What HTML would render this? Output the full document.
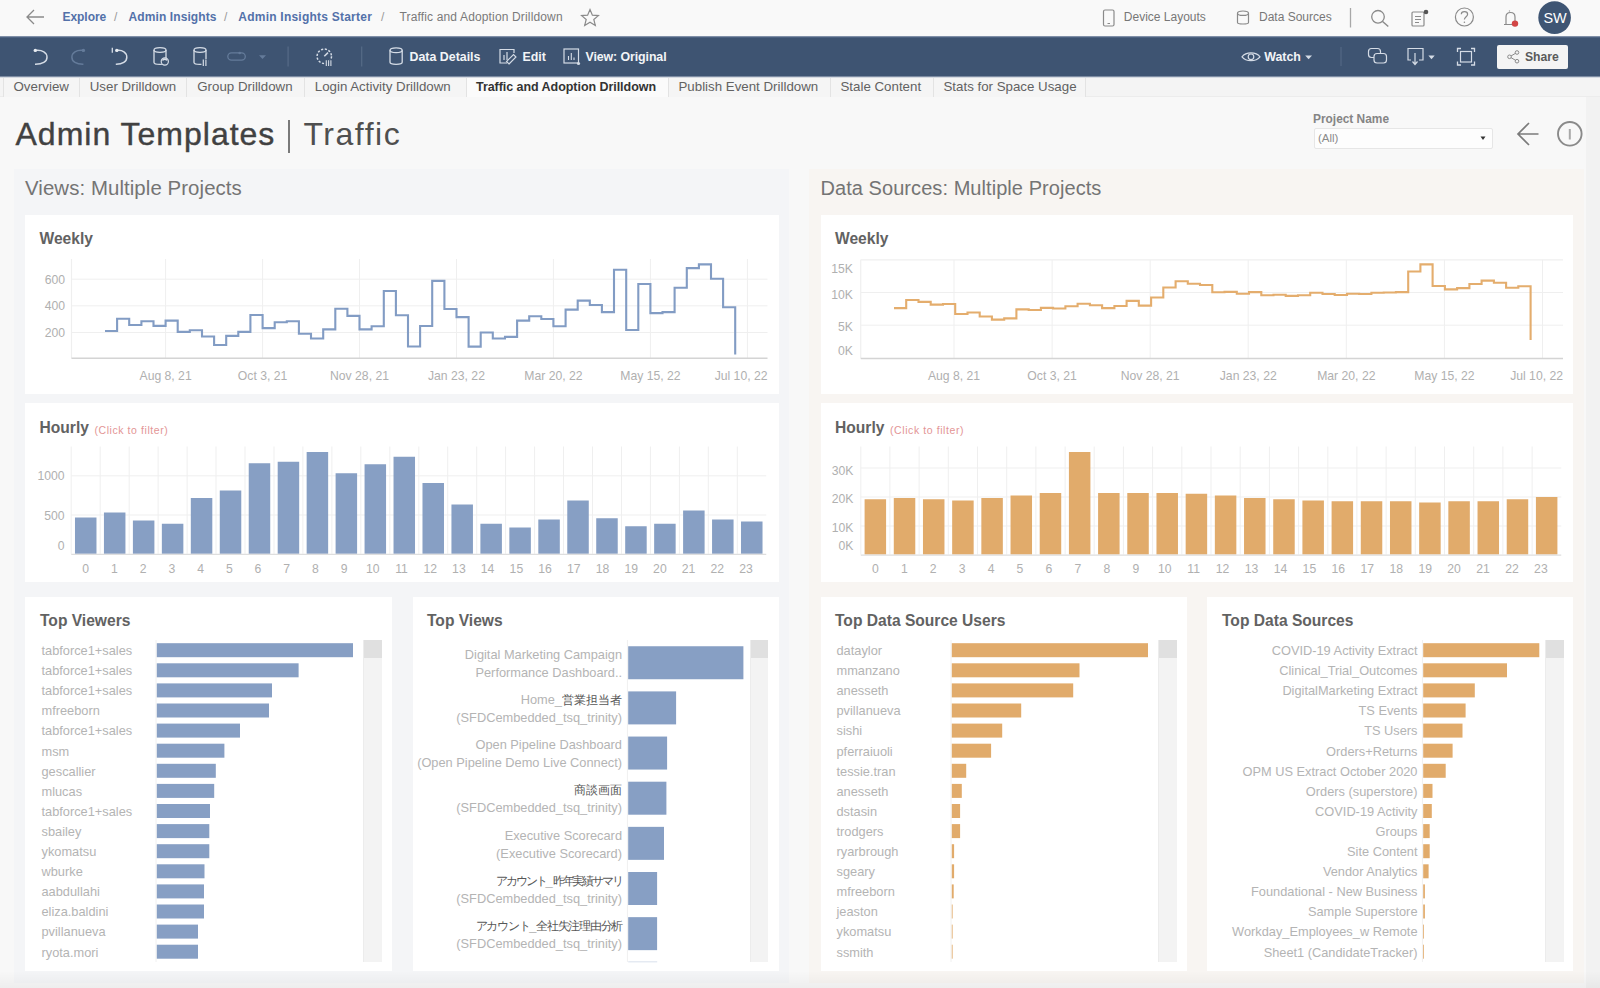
<!DOCTYPE html>
<html><head><meta charset="utf-8"><title>Admin Templates | Traffic</title>
<style>
*{box-sizing:border-box;margin:0;padding:0}
html,body{width:1600px;height:988px;overflow:hidden;background:#f8f8f8;font-family:"Liberation Sans", sans-serif;}
.a{position:absolute;white-space:nowrap}
svg{position:absolute;overflow:visible}
</style></head><body>

<div class="a" style="left:0;top:0;width:1600px;height:37px;background:#f9f9f9"></div>
<svg style="left:0;top:0" width="1600" height="36"><path d="M44,17H27M34,10L27,17L34,24" fill="none" stroke="#8a8a8a" stroke-width="1.3"/><path d="M590,9.5L592.4,15.2L598.4,15.6L593.8,19.5L595.3,25.4L590,22.2L584.7,25.4L586.2,19.5L581.6,15.6L587.6,15.2Z" fill="none" stroke="#8a8a8a" stroke-width="1.2"/><rect x="1103.5" y="10" width="10.5" height="16" rx="1.5" fill="none" stroke="#8a8a8a" stroke-width="1.2"/><path d="M1107.5,23.5H1110" stroke="#8a8a8a" stroke-width="1"/><path d="M1237.5,13.5V22.5C1237.5,24.5 1248.5,24.5 1248.5,22.5V13.5" fill="none" stroke="#8a8a8a" stroke-width="1.2"/><ellipse cx="1243" cy="13.2" rx="5.5" ry="2.2" fill="none" stroke="#8a8a8a" stroke-width="1.2"/><path d="M1350.5,8V27.5" stroke="#a8a8a8" stroke-width="1.3"/><circle cx="1378" cy="16.8" r="6.3" fill="none" stroke="#8a8a8a" stroke-width="1.3"/><path d="M1382.6,21.4L1388.3,26.6" stroke="#8a8a8a" stroke-width="1.4"/><rect x="1412" y="12" width="12" height="14" rx="1" fill="none" stroke="#8a8a8a" stroke-width="1.2"/><path d="M1415,16.5H1421M1415,19.5H1421M1415,22.5H1419" stroke="#8a8a8a" stroke-width="1"/><circle cx="1426" cy="12" r="2.3" fill="#555"/><circle cx="1464.4" cy="17" r="9" fill="none" stroke="#8a8a8a" stroke-width="1.2"/><path d="M1461.3,14.3C1461.3,10.8 1467.6,10.8 1467.6,14.3C1467.6,16.6 1464.4,16.8 1464.4,19.5" fill="none" stroke="#8a8a8a" stroke-width="1.2"/><circle cx="1464.4" cy="22.3" r="0.8" fill="#8a8a8a"/><path d="M1504,24.5H1517M1506,24.5V17C1506,11 1515,11 1515,17V24.5M1509.5,10.5V11.5" fill="none" stroke="#8a8a8a" stroke-width="1.2"/><circle cx="1515" cy="23.6" r="3.2" fill="#d24545"/><circle cx="1554.6" cy="17.6" r="16.3" fill="#3e5573"/></svg>
<div class="a" style="left:1539px;top:9.6px;width:32px;text-align:center;font-size:14.5px;color:#fff;letter-spacing:-0.3px">SW</div>
<div class="a" style="font-size:12px;top:10px;left:62.5px;color:#5371a9;font-weight:bold;letter-spacing:-0.05px">Explore</div>
<div class="a" style="font-size:12px;top:10px;left:114px;color:#999">/</div>
<div class="a" style="font-size:12px;top:10px;left:128.5px;color:#5371a9;font-weight:bold;letter-spacing:0.1px">Admin Insights</div>
<div class="a" style="font-size:12px;top:10px;left:224px;color:#999">/</div>
<div class="a" style="font-size:12px;top:10px;left:238.3px;color:#5371a9;font-weight:bold;letter-spacing:0.23px">Admin Insights Starter</div>
<div class="a" style="font-size:12px;top:10px;left:381px;color:#999">/</div>
<div class="a" style="font-size:12px;top:10px;left:399.5px;color:#7a7a7a;letter-spacing:0.15px">Traffic and Adoption Drilldown</div>
<div class="a" style="font-size:12px;top:10px;left:1123.8px;color:#777;letter-spacing:0px">Device Layouts</div>
<div class="a" style="font-size:12px;top:10px;left:1259px;color:#777;letter-spacing:0px">Data Sources</div>
<div class="a" style="left:0;top:36px;width:1600px;height:42px;background:linear-gradient(to bottom,#a3afbf 0,#5d7090 1px,#3e5472 2px,#3e5472 39.5px,#7d8ca3 40.5px,#d5dae1 41.5px)"></div>
<svg style="left:0;top:0" width="1600" height="80"><path d="M35.5,50.4C42.5,49.8 47,52.5 47,57.2C47,61.8 42.5,64.3 35,64.2" fill="none" stroke="#d5dce6" stroke-width="1.5"/><circle cx="35.3" cy="50.4" r="1.7" fill="#e9edf2"/><path d="M83.2,50.4C76.2,49.8 71.9,52.5 71.9,57.2C71.9,61.8 76.2,64.3 83.4,64.2" fill="none" stroke="#647b9a" stroke-width="1.5"/><circle cx="83.4" cy="50.4" r="1.7" fill="#647b9a"/><path d="M117,50.4C122.5,49.8 126.8,52.5 126.8,57.2C126.8,61.8 122.5,64.3 115.8,64.2" fill="none" stroke="#d5dce6" stroke-width="1.5"/><circle cx="116.8" cy="50.4" r="1.7" fill="#e9edf2"/><path d="M112.3,47.8V52.8" stroke="#d5dce6" stroke-width="1.3"/><path d="M154,50V62.5C154,65 166,65 166,62.5V50" fill="none" stroke="#d5dce6" stroke-width="1.3"/><ellipse cx="160" cy="50" rx="6" ry="2.3" fill="none" stroke="#d5dce6" stroke-width="1.3"/><circle cx="164.8" cy="61.5" r="3.6" fill="#3f5572" stroke="#d5dce6" stroke-width="1.2"/><path d="M162.5,60.5A2.5,2.5 0 0 1 167,60.5" fill="none" stroke="#d5dce6" stroke-width="1.6"/><path d="M194,50V62.5C194,65 206,65 206,62.5V50" fill="none" stroke="#d5dce6" stroke-width="1.3"/><ellipse cx="200" cy="50" rx="6" ry="2.3" fill="none" stroke="#d5dce6" stroke-width="1.3"/><rect x="201.5" y="59" width="5.5" height="7" fill="#3f5572"/><path d="M203.3,59.5V66M205.9,59.5V66" stroke="#d5dce6" stroke-width="1.2"/><rect x="227.8" y="52.8" width="17.5" height="7.4" rx="3.7" fill="none" stroke="#647b9a" stroke-width="1.3"/><circle cx="239.7" cy="53" r="1.3" fill="#647b9a"/><path d="M259,55.2H266L262.5,59Z" fill="#647b9a"/><path d="M288.1,46.5V66.5" stroke="#566b87" stroke-width="1.2"/><circle cx="324.3" cy="56.3" r="7.2" fill="none" stroke="#d5dce6" stroke-width="1.5" stroke-dasharray="2.2 1.6"/><path d="M324.3,56.3L328,52.6" stroke="#d5dce6" stroke-width="1.5"/><rect x="324.5" y="59.5" width="8" height="7.5" fill="#3f5572"/><path d="M326.3,60.3V66M328.6,60.3V66M330.9,60.3V66" stroke="#d5dce6" stroke-width="1.1"/><path d="M361.7,46.5V66.5" stroke="#566b87" stroke-width="1.2"/><path d="M390,50.3V62.3C390,65 402.2,65 402.2,62.3V50.3" fill="none" stroke="#d5dce6" stroke-width="1.3"/><ellipse cx="396.1" cy="50.3" rx="6.1" ry="2.4" fill="none" stroke="#d5dce6" stroke-width="1.3"/><path d="M507,63H500V49.5H514V53" fill="none" stroke="#d5dce6" stroke-width="1.2"/><path d="M504,60V55M507,60V52" stroke="#d5dce6" stroke-width="1.2"/><path d="M509,64L516,57L513.5,54.5L506.5,61.5Z" fill="none" stroke="#d5dce6" stroke-width="1.1"/><rect x="564" y="49" width="14.5" height="14" fill="none" stroke="#d5dce6" stroke-width="1.2"/><path d="M568.5,60V56M571.3,60V53M574,60V57.5" stroke="#d5dce6" stroke-width="1.1"/><circle cx="578.5" cy="63.5" r="1.6" fill="#d5dce6"/><path d="M1242,56.8C1246,51.5 1256,51.5 1260,56.8C1256,62 1246,62 1242,56.8Z" fill="none" stroke="#d5dce6" stroke-width="1.2"/><circle cx="1251" cy="56.8" r="2.8" fill="none" stroke="#d5dce6" stroke-width="1.2"/><path d="M1305.2,55.5H1312L1308.6,59.3Z" fill="#d5dce6"/><path d="M1341,47V66" stroke="#566b87" stroke-width="1"/><rect x="1368.5" y="48.5" width="12" height="9" rx="3" fill="none" stroke="#d5dce6" stroke-width="1.2"/><rect x="1374" y="53.5" width="12.5" height="9.5" rx="3" fill="#3f5572" stroke="#d5dce6" stroke-width="1.2"/><path d="M1411,60H1408V48.5H1423V60H1419" fill="none" stroke="#d5dce6" stroke-width="1.2"/><path d="M1415,53V64M1412.5,61.5L1415,64.5L1417.5,61.5" fill="none" stroke="#d5dce6" stroke-width="1.2"/><path d="M1428.4,55.5H1434.7L1431.5,59.3Z" fill="#d5dce6"/><path d="M1457.5,52V48.5H1461M1471,48.5H1474.5V52M1474.5,61.5V65H1471M1461,65H1457.5V61.5" fill="none" stroke="#d5dce6" stroke-width="1.3"/><rect x="1460.5" y="51.5" width="11" height="10.5" fill="none" stroke="#d5dce6" stroke-width="1.2"/></svg>
<div class="a" style="font-size:12.4px;font-weight:bold;color:#f2f4f7;top:49.5px;left:409.5px">Data Details</div>
<div class="a" style="font-size:12.4px;font-weight:bold;color:#f2f4f7;top:49.5px;left:522.4px">Edit</div>
<div class="a" style="font-size:12.4px;font-weight:bold;color:#f2f4f7;top:49.5px;left:585.5px;letter-spacing:-0.1px">View: Original</div>
<div class="a" style="font-size:12.4px;font-weight:bold;color:#f2f4f7;top:49.5px;left:1264.2px">Watch</div>
<div class="a" style="left:1497px;top:44.8px;width:71px;height:24px;background:#f4f4f4;border-radius:2px"></div>
<svg style="left:0;top:0" width="1600" height="80"><circle cx="1509.5" cy="56.8" r="1.8" fill="none" stroke="#8a8a8a" stroke-width="1"/><circle cx="1517" cy="52.5" r="1.8" fill="none" stroke="#8a8a8a" stroke-width="1"/><circle cx="1517" cy="61.2" r="1.8" fill="none" stroke="#8a8a8a" stroke-width="1"/><path d="M1511,56L1515.5,53.3M1511,57.6L1515.5,60.3" stroke="#8a8a8a" stroke-width="1"/></svg>
<div class="a" style="left:1524.9px;top:49.5px;font-size:12.2px;font-weight:bold;color:#5a5a5a">Share</div>
<div class="a" style="left:0;top:78px;width:1600px;height:19px;background:#f4f4f4;border-bottom:1px solid #ececec"></div>
<div class="a" style="left:2.5px;top:78px;width:76.25px;height:18.5px;padding-top:0px;background:#f5f5f5;border-left:1px solid #e3e3e3;font-size:13.3px;line-height:18px;padding-left:10px;color:#626262;font-weight:normal;letter-spacing:0px">Overview</div>
<div class="a" style="left:78.75px;top:78px;width:107.5px;height:18.5px;padding-top:0px;background:#f5f5f5;border-left:1px solid #e3e3e3;font-size:13.3px;line-height:18px;padding-left:10px;color:#626262;font-weight:normal;letter-spacing:0px">User Drilldown</div>
<div class="a" style="left:186.25px;top:78px;width:117.5px;height:18.5px;padding-top:0px;background:#f5f5f5;border-left:1px solid #e3e3e3;font-size:13.3px;line-height:18px;padding-left:10px;color:#626262;font-weight:normal;letter-spacing:0px">Group Drilldown</div>
<div class="a" style="left:303.75px;top:78px;width:162.25px;height:18.5px;padding-top:0px;background:#f5f5f5;border-left:1px solid #e3e3e3;font-size:13.3px;line-height:18px;padding-left:10px;color:#626262;font-weight:normal;letter-spacing:0px">Login Activity Drilldown</div>
<div class="a" style="left:466px;top:78px;width:201.5px;height:18.5px;padding-top:0px;background:#fbfbfb;border-left:1px solid #e3e3e3;font-size:12.5px;line-height:18px;padding-left:9px;color:#333;font-weight:bold;letter-spacing:-0.05px">Traffic and Adoption Drilldown</div>
<div class="a" style="left:667.5px;top:78px;width:162.0px;height:18.5px;padding-top:0px;background:#f5f5f5;border-left:1px solid #e3e3e3;font-size:13.3px;line-height:18px;padding-left:10px;color:#626262;font-weight:normal;letter-spacing:0px">Publish Event Drilldown</div>
<div class="a" style="left:829.5px;top:78px;width:103.0px;height:18.5px;padding-top:0px;background:#f5f5f5;border-left:1px solid #e3e3e3;font-size:13.3px;line-height:18px;padding-left:10px;color:#626262;font-weight:normal;letter-spacing:0px">Stale Content</div>
<div class="a" style="left:932.5px;top:78px;width:152.5px;height:18.5px;padding-top:0px;background:#f5f5f5;border-left:1px solid #e3e3e3;font-size:13.3px;line-height:18px;padding-left:10px;color:#626262;font-weight:normal;letter-spacing:0px">Stats for Space Usage</div>
<div class="a" style="left:1085px;top:78px;width:1px;height:18.5px;background:#e3e3e3"></div>
<div class="a" style="left:15.5px;top:116px;font-size:32px;color:#414141;letter-spacing:1px;-webkit-text-stroke:0.4px #414141">Admin Templates</div>
<div class="a" style="left:288px;top:120px;width:1.7px;height:32.5px;background:#7a7a7a"></div>
<div class="a" style="left:303.5px;top:116px;font-size:32px;color:#4f4f4f;letter-spacing:1.5px;font-weight:normal">Traffic</div>
<div class="a" style="left:1313px;top:111.5px;font-size:11.9px;font-weight:bold;color:#858585">Project Name</div>
<div class="a" style="left:1314px;top:128px;width:179px;height:21px;background:#fdfdfd;border:1px solid #e6e6e6;border-radius:2px"></div>
<div class="a" style="left:1318px;top:132px;font-size:11.5px;color:#8a8a8a">(All)</div>
<svg style="left:0;top:0" width="1600" height="200"><path d="M1480.5,136.5H1485.5L1483,140Z" fill="#333"/><path d="M1538.5,134H1518.5M1529,123L1518,134L1529,145" fill="none" stroke="#7b7b7b" stroke-width="1.7"/><circle cx="1569.8" cy="133.8" r="11.8" fill="none" stroke="#8a8a8a" stroke-width="1.9"/><path d="M1569.8,129V139.5" stroke="#a8a8a8" stroke-width="2"/></svg>
<div class="a" style="left:1585.5px;top:97px;width:15px;height:891px;background:#f2f2f2"></div>
<div class="a" style="left:14px;top:169px;width:775px;height:814px;background:#f4f5f7"></div>
<div class="a" style="left:809px;top:169px;width:775px;height:814px;background:#f8f5f2"></div>
<div class="a" style="left:25px;top:177.2px;font-size:20.4px;color:#747474;letter-spacing:0.08px">Views: Multiple Projects</div>
<div class="a" style="left:820.5px;top:177.2px;font-size:20px;color:#747474;letter-spacing:0.06px">Data Sources: Multiple Projects</div>
<div class="a" style="left:25px;top:215px;width:754px;height:179px;background:#fff"></div>
<div class="a" style="left:25px;top:403px;width:754px;height:179px;background:#fff"></div>
<div class="a" style="left:25px;top:597px;width:367px;height:374px;background:#fff"></div>
<div class="a" style="left:412.5px;top:597px;width:366.5px;height:374px;background:#fff"></div>
<div class="a" style="left:820.5px;top:215px;width:752.5px;height:179px;background:#fff"></div>
<div class="a" style="left:820.5px;top:403px;width:752.5px;height:179px;background:#fff"></div>
<div class="a" style="left:820.5px;top:597px;width:366.70000000000005px;height:374px;background:#fff"></div>
<div class="a" style="left:1207.4px;top:597px;width:365.5999999999999px;height:374px;background:#fff"></div>
<div class="a" style="font-size:15.6px;font-weight:bold;color:#626262;left:39.5px;top:229.5px">Weekly</div>
<div class="a" style="font-size:15.6px;font-weight:bold;color:#626262;left:835px;top:229.5px">Weekly</div>
<div class="a" style="font-size:15.6px;font-weight:bold;color:#626262;left:39.5px;top:419px">Hourly</div>
<div class="a" style="font-size:15.6px;font-weight:bold;color:#626262;left:835px;top:419px">Hourly</div>
<div class="a" style="left:94.4px;top:423.5px;font-size:10.5px;color:#e39595;letter-spacing:0.58px">(Click to filter)</div>
<div class="a" style="left:890px;top:423.5px;font-size:10.5px;color:#e39595;letter-spacing:0.58px">(Click to filter)</div>
<div class="a" style="font-size:15.6px;font-weight:bold;color:#626262;left:40px;top:611.5px">Top Viewers</div>
<div class="a" style="font-size:15.6px;font-weight:bold;color:#626262;left:427px;top:611.5px">Top Views</div>
<div class="a" style="font-size:15.6px;font-weight:bold;color:#626262;left:835px;top:611.5px">Top Data Source Users</div>
<div class="a" style="font-size:15.6px;font-weight:bold;color:#626262;left:1222px;top:611.5px">Top Data Sources</div>
<svg style="left:0;top:0" width="1600" height="988"><path d="M165.6,259V358.3" stroke="#efefef" stroke-width="1"/><path d="M262.6,259V358.3" stroke="#efefef" stroke-width="1"/><path d="M359.5,259V358.3" stroke="#efefef" stroke-width="1"/><path d="M456.5,259V358.3" stroke="#efefef" stroke-width="1"/><path d="M553.4,259V358.3" stroke="#efefef" stroke-width="1"/><path d="M650.4,259V358.3" stroke="#efefef" stroke-width="1"/><path d="M747.4,259V358.3" stroke="#efefef" stroke-width="1"/><path d="M71.5,279.2H767.5" stroke="#efefef" stroke-width="1"/><path d="M71.5,305.8H767.5" stroke="#efefef" stroke-width="1"/><path d="M71.5,332.5H767.5" stroke="#efefef" stroke-width="1"/><path d="M71.5,259V358.3" stroke="#efefef" stroke-width="1.2"/><path d="M71.5,358.3H767.5" stroke="#d4d4d4" stroke-width="1.5"/><path d="M105.0,331.0H117.1V318.8H129.2V325.0H141.4V321.2H153.5V325.9H165.6V320.6H177.7V331.9H189.8V330.2H202.0V336.5H214.1V345.0H226.2V335.9H238.3V331.9H250.4V315.0H262.6V328.1H274.7V322.2H286.8V321.2H298.9V333.8H311.0V338.5H323.2V329.4H335.3V308.8H347.4V315.9H359.5V329.4H371.6V326.2H383.8V291.0H395.9V315.2H408.0V346.5H420.1V326.0H432.2V280.9H444.4V309.0H456.5V317.1H468.6V346.6H480.7V332.5H492.8V338.5H505.0V336.9H517.1V320.6H529.2V316.2H541.3V319.0H553.4V326.2H565.6V309.6H577.7V300.6H589.8V305.0H601.9V312.1H614.0V269.8H626.2V330.0H638.3V284.0H650.4V313.1H662.5V312.1H674.6V287.8H686.8V268.1H698.9V264.4H711.0V278.8H723.1V307.2H735.2V354.4" fill="none" stroke="#829cc4" stroke-width="2.1" stroke-linejoin="miter"/></svg>
<div class="a" style="left:25px;top:272.5px;width:40px;text-align:right;font-size:12.2px;color:#b0b0b0;letter-spacing:0px">600</div>
<div class="a" style="left:25px;top:299px;width:40px;text-align:right;font-size:12.2px;color:#b0b0b0;letter-spacing:0px">400</div>
<div class="a" style="left:25px;top:325.5px;width:40px;text-align:right;font-size:12.2px;color:#b0b0b0;letter-spacing:0px">200</div>
<div class="a" style="left:125.6px;top:368.7px;width:80px;text-align:center;font-size:12.2px;color:#b0b0b0;letter-spacing:0px">Aug 8, 21</div>
<div class="a" style="left:222.56px;top:368.7px;width:80px;text-align:center;font-size:12.2px;color:#b0b0b0;letter-spacing:0px">Oct 3, 21</div>
<div class="a" style="left:319.52px;top:368.7px;width:80px;text-align:center;font-size:12.2px;color:#b0b0b0;letter-spacing:0px">Nov 28, 21</div>
<div class="a" style="left:416.47999999999996px;top:368.7px;width:80px;text-align:center;font-size:12.2px;color:#b0b0b0;letter-spacing:0px">Jan 23, 22</div>
<div class="a" style="left:513.44px;top:368.7px;width:80px;text-align:center;font-size:12.2px;color:#b0b0b0;letter-spacing:0px">Mar 20, 22</div>
<div class="a" style="left:610.4px;top:368.7px;width:80px;text-align:center;font-size:12.2px;color:#b0b0b0;letter-spacing:0px">May 15, 22</div>
<div class="a" style="left:667.5px;top:368.7px;width:100px;text-align:right;font-size:12.2px;color:#b0b0b0;letter-spacing:0px">Jul 10, 22</div>
<svg style="left:0;top:0" width="1600" height="988"><path d="M954.0,259.8V358.5" stroke="#efefef" stroke-width="1"/><path d="M1052.1,259.8V358.5" stroke="#efefef" stroke-width="1"/><path d="M1150.2,259.8V358.5" stroke="#efefef" stroke-width="1"/><path d="M1248.2,259.8V358.5" stroke="#efefef" stroke-width="1"/><path d="M1346.3,259.8V358.5" stroke="#efefef" stroke-width="1"/><path d="M1444.4,259.8V358.5" stroke="#efefef" stroke-width="1"/><path d="M1542.5,259.8V358.5" stroke="#efefef" stroke-width="1"/><path d="M860.75,292.5H1563" stroke="#efefef" stroke-width="1"/><path d="M860.75,325.2H1563" stroke="#efefef" stroke-width="1"/><path d="M860.75,259.8H1563" stroke="#efefef" stroke-width="1.2"/><path d="M860.75,259.8V358.5" stroke="#efefef" stroke-width="1.2"/><path d="M860.75,358.5H1563" stroke="#d4d4d4" stroke-width="1.5"/><path d="M894.0,308.1H906.2V300.0H918.5V301.9H930.7V304.6H943.0V304.0H955.2V314.0H967.5V312.5H979.7V316.5H991.9V319.6H1004.2V318.4H1016.4V309.4H1028.7V310.0H1040.9V307.9H1053.1V308.5H1065.4V306.2H1077.6V303.8H1089.9V305.2H1102.1V308.1H1114.4V306.0H1126.6V300.9H1138.8V305.6H1151.1V297.5H1163.3V287.5H1175.6V281.2H1187.8V283.8H1200.0V285.0H1212.3V292.2H1224.5V291.9H1236.8V293.8H1249.0V292.1H1261.3V295.2H1273.5V294.8H1285.7V295.9H1298.0V295.2H1310.2V292.8H1322.5V294.0H1334.7V295.0H1347.0V293.8H1359.2V294.0H1371.4V292.8H1383.7V292.5H1395.9V292.1H1408.2V271.5H1420.4V264.4H1432.6V286.0H1444.9V289.4H1457.1V288.1H1469.4V284.0H1481.6V280.6H1493.9V282.8H1506.1V287.8H1518.3V286.2H1530.6V340.0" fill="none" stroke="#e4ad6d" stroke-width="2.1" stroke-linejoin="miter"/></svg>
<div class="a" style="left:813px;top:261.8px;width:40px;text-align:right;font-size:12.2px;color:#b0b0b0;letter-spacing:0px">15K</div>
<div class="a" style="left:813px;top:287.5px;width:40px;text-align:right;font-size:12.2px;color:#b0b0b0;letter-spacing:0px">10K</div>
<div class="a" style="left:813px;top:320px;width:40px;text-align:right;font-size:12.2px;color:#b0b0b0;letter-spacing:0px">5K</div>
<div class="a" style="left:813px;top:343.5px;width:40px;text-align:right;font-size:12.2px;color:#b0b0b0;letter-spacing:0px">0K</div>
<div class="a" style="left:914.0px;top:368.7px;width:80px;text-align:center;font-size:12.2px;color:#b0b0b0;letter-spacing:0px">Aug 8, 21</div>
<div class="a" style="left:1012.0799999999999px;top:368.7px;width:80px;text-align:center;font-size:12.2px;color:#b0b0b0;letter-spacing:0px">Oct 3, 21</div>
<div class="a" style="left:1110.16px;top:368.7px;width:80px;text-align:center;font-size:12.2px;color:#b0b0b0;letter-spacing:0px">Nov 28, 21</div>
<div class="a" style="left:1208.24px;top:368.7px;width:80px;text-align:center;font-size:12.2px;color:#b0b0b0;letter-spacing:0px">Jan 23, 22</div>
<div class="a" style="left:1306.32px;top:368.7px;width:80px;text-align:center;font-size:12.2px;color:#b0b0b0;letter-spacing:0px">Mar 20, 22</div>
<div class="a" style="left:1404.4px;top:368.7px;width:80px;text-align:center;font-size:12.2px;color:#b0b0b0;letter-spacing:0px">May 15, 22</div>
<div class="a" style="left:1463px;top:368.7px;width:100px;text-align:right;font-size:12.2px;color:#b0b0b0;letter-spacing:0px">Jul 10, 22</div>
<svg style="left:0;top:0" width="1600" height="988"><path d="M71.2,446.5V553.8" stroke="#efefef" stroke-width="1"/><path d="M100.2,446.5V553.8" stroke="#efefef" stroke-width="1"/><path d="M129.2,446.5V553.8" stroke="#efefef" stroke-width="1"/><path d="M158.1,446.5V553.8" stroke="#efefef" stroke-width="1"/><path d="M187.1,446.5V553.8" stroke="#efefef" stroke-width="1"/><path d="M216.0,446.5V553.8" stroke="#efefef" stroke-width="1"/><path d="M245.0,446.5V553.8" stroke="#efefef" stroke-width="1"/><path d="M274.0,446.5V553.8" stroke="#efefef" stroke-width="1"/><path d="M302.9,446.5V553.8" stroke="#efefef" stroke-width="1"/><path d="M331.9,446.5V553.8" stroke="#efefef" stroke-width="1"/><path d="M360.8,446.5V553.8" stroke="#efefef" stroke-width="1"/><path d="M389.8,446.5V553.8" stroke="#efefef" stroke-width="1"/><path d="M418.8,446.5V553.8" stroke="#efefef" stroke-width="1"/><path d="M447.7,446.5V553.8" stroke="#efefef" stroke-width="1"/><path d="M476.7,446.5V553.8" stroke="#efefef" stroke-width="1"/><path d="M505.6,446.5V553.8" stroke="#efefef" stroke-width="1"/><path d="M534.6,446.5V553.8" stroke="#efefef" stroke-width="1"/><path d="M563.5,446.5V553.8" stroke="#efefef" stroke-width="1"/><path d="M592.5,446.5V553.8" stroke="#efefef" stroke-width="1"/><path d="M621.5,446.5V553.8" stroke="#efefef" stroke-width="1"/><path d="M650.4,446.5V553.8" stroke="#efefef" stroke-width="1"/><path d="M679.4,446.5V553.8" stroke="#efefef" stroke-width="1"/><path d="M708.3,446.5V553.8" stroke="#efefef" stroke-width="1"/><path d="M737.3,446.5V553.8" stroke="#efefef" stroke-width="1"/><path d="M71.25,475.8H766.25" stroke="#efefef" stroke-width="1"/><path d="M71.25,515.0H766.25" stroke="#efefef" stroke-width="1"/><rect x="74.98" y="517.50" width="21.5" height="36.30" fill="#879fc4"/><rect x="103.94" y="512.50" width="21.5" height="41.30" fill="#879fc4"/><rect x="132.90" y="520.50" width="21.5" height="33.30" fill="#879fc4"/><rect x="161.85" y="523.75" width="21.5" height="30.05" fill="#879fc4"/><rect x="190.81" y="498.00" width="21.5" height="55.80" fill="#879fc4"/><rect x="219.77" y="490.50" width="21.5" height="63.30" fill="#879fc4"/><rect x="248.73" y="463.25" width="21.5" height="90.55" fill="#879fc4"/><rect x="277.69" y="461.75" width="21.5" height="92.05" fill="#879fc4"/><rect x="306.65" y="452.00" width="21.5" height="101.80" fill="#879fc4"/><rect x="335.60" y="473.25" width="21.5" height="80.55" fill="#879fc4"/><rect x="364.56" y="464.25" width="21.5" height="89.55" fill="#879fc4"/><rect x="393.52" y="456.75" width="21.5" height="97.05" fill="#879fc4"/><rect x="422.48" y="483.00" width="21.5" height="70.80" fill="#879fc4"/><rect x="451.44" y="504.50" width="21.5" height="49.30" fill="#879fc4"/><rect x="480.40" y="523.75" width="21.5" height="30.05" fill="#879fc4"/><rect x="509.35" y="527.50" width="21.5" height="26.30" fill="#879fc4"/><rect x="538.31" y="519.50" width="21.5" height="34.30" fill="#879fc4"/><rect x="567.27" y="500.50" width="21.5" height="53.30" fill="#879fc4"/><rect x="596.23" y="518.25" width="21.5" height="35.55" fill="#879fc4"/><rect x="625.19" y="526.25" width="21.5" height="27.55" fill="#879fc4"/><rect x="654.15" y="523.75" width="21.5" height="30.05" fill="#879fc4"/><rect x="683.10" y="510.50" width="21.5" height="43.30" fill="#879fc4"/><rect x="712.06" y="519.50" width="21.5" height="34.30" fill="#879fc4"/><rect x="741.02" y="521.50" width="21.5" height="32.30" fill="#879fc4"/><path d="M71.25,554.4H766.25" stroke="#dedede" stroke-width="1.2"/></svg>
<div class="a" style="left:24.5px;top:469px;width:40px;text-align:right;font-size:12.2px;color:#b0b0b0;letter-spacing:0px">1000</div>
<div class="a" style="left:24.5px;top:509px;width:40px;text-align:right;font-size:12.2px;color:#b0b0b0;letter-spacing:0px">500</div>
<div class="a" style="left:24.5px;top:539px;width:40px;text-align:right;font-size:12.2px;color:#b0b0b0;letter-spacing:0px">0</div>
<div class="a" style="left:70.7px;top:561.5px;width:30px;text-align:center;font-size:12.2px;color:#b0b0b0">0</div>
<div class="a" style="left:99.4px;top:561.5px;width:30px;text-align:center;font-size:12.2px;color:#b0b0b0">1</div>
<div class="a" style="left:128.1px;top:561.5px;width:30px;text-align:center;font-size:12.2px;color:#b0b0b0">2</div>
<div class="a" style="left:156.9px;top:561.5px;width:30px;text-align:center;font-size:12.2px;color:#b0b0b0">3</div>
<div class="a" style="left:185.6px;top:561.5px;width:30px;text-align:center;font-size:12.2px;color:#b0b0b0">4</div>
<div class="a" style="left:214.3px;top:561.5px;width:30px;text-align:center;font-size:12.2px;color:#b0b0b0">5</div>
<div class="a" style="left:243.0px;top:561.5px;width:30px;text-align:center;font-size:12.2px;color:#b0b0b0">6</div>
<div class="a" style="left:271.7px;top:561.5px;width:30px;text-align:center;font-size:12.2px;color:#b0b0b0">7</div>
<div class="a" style="left:300.4px;top:561.5px;width:30px;text-align:center;font-size:12.2px;color:#b0b0b0">8</div>
<div class="a" style="left:329.1px;top:561.5px;width:30px;text-align:center;font-size:12.2px;color:#b0b0b0">9</div>
<div class="a" style="left:357.8px;top:561.5px;width:30px;text-align:center;font-size:12.2px;color:#b0b0b0">10</div>
<div class="a" style="left:386.5px;top:561.5px;width:30px;text-align:center;font-size:12.2px;color:#b0b0b0">11</div>
<div class="a" style="left:415.2px;top:561.5px;width:30px;text-align:center;font-size:12.2px;color:#b0b0b0">12</div>
<div class="a" style="left:443.9px;top:561.5px;width:30px;text-align:center;font-size:12.2px;color:#b0b0b0">13</div>
<div class="a" style="left:472.6px;top:561.5px;width:30px;text-align:center;font-size:12.2px;color:#b0b0b0">14</div>
<div class="a" style="left:501.4px;top:561.5px;width:30px;text-align:center;font-size:12.2px;color:#b0b0b0">15</div>
<div class="a" style="left:530.1px;top:561.5px;width:30px;text-align:center;font-size:12.2px;color:#b0b0b0">16</div>
<div class="a" style="left:558.8px;top:561.5px;width:30px;text-align:center;font-size:12.2px;color:#b0b0b0">17</div>
<div class="a" style="left:587.5px;top:561.5px;width:30px;text-align:center;font-size:12.2px;color:#b0b0b0">18</div>
<div class="a" style="left:616.2px;top:561.5px;width:30px;text-align:center;font-size:12.2px;color:#b0b0b0">19</div>
<div class="a" style="left:644.9px;top:561.5px;width:30px;text-align:center;font-size:12.2px;color:#b0b0b0">20</div>
<div class="a" style="left:673.6px;top:561.5px;width:30px;text-align:center;font-size:12.2px;color:#b0b0b0">21</div>
<div class="a" style="left:702.3px;top:561.5px;width:30px;text-align:center;font-size:12.2px;color:#b0b0b0">22</div>
<div class="a" style="left:731.0px;top:561.5px;width:30px;text-align:center;font-size:12.2px;color:#b0b0b0">23</div>
<svg style="left:0;top:0" width="1600" height="988"><path d="M860.8,446.5V554.5" stroke="#efefef" stroke-width="1"/><path d="M889.9,446.5V554.5" stroke="#efefef" stroke-width="1"/><path d="M919.1,446.5V554.5" stroke="#efefef" stroke-width="1"/><path d="M948.3,446.5V554.5" stroke="#efefef" stroke-width="1"/><path d="M977.5,446.5V554.5" stroke="#efefef" stroke-width="1"/><path d="M1006.7,446.5V554.5" stroke="#efefef" stroke-width="1"/><path d="M1035.9,446.5V554.5" stroke="#efefef" stroke-width="1"/><path d="M1065.1,446.5V554.5" stroke="#efefef" stroke-width="1"/><path d="M1094.2,446.5V554.5" stroke="#efefef" stroke-width="1"/><path d="M1123.4,446.5V554.5" stroke="#efefef" stroke-width="1"/><path d="M1152.6,446.5V554.5" stroke="#efefef" stroke-width="1"/><path d="M1181.8,446.5V554.5" stroke="#efefef" stroke-width="1"/><path d="M1211.0,446.5V554.5" stroke="#efefef" stroke-width="1"/><path d="M1240.2,446.5V554.5" stroke="#efefef" stroke-width="1"/><path d="M1269.4,446.5V554.5" stroke="#efefef" stroke-width="1"/><path d="M1298.6,446.5V554.5" stroke="#efefef" stroke-width="1"/><path d="M1327.8,446.5V554.5" stroke="#efefef" stroke-width="1"/><path d="M1356.9,446.5V554.5" stroke="#efefef" stroke-width="1"/><path d="M1386.1,446.5V554.5" stroke="#efefef" stroke-width="1"/><path d="M1415.3,446.5V554.5" stroke="#efefef" stroke-width="1"/><path d="M1444.5,446.5V554.5" stroke="#efefef" stroke-width="1"/><path d="M1473.7,446.5V554.5" stroke="#efefef" stroke-width="1"/><path d="M1502.9,446.5V554.5" stroke="#efefef" stroke-width="1"/><path d="M1532.1,446.5V554.5" stroke="#efefef" stroke-width="1"/><path d="M860.75,468.0H1561.25" stroke="#efefef" stroke-width="1"/><path d="M860.75,497.0H1561.25" stroke="#efefef" stroke-width="1"/><path d="M860.75,526.0H1561.25" stroke="#efefef" stroke-width="1"/><rect x="864.59" y="499.25" width="21.5" height="55.25" fill="#e1ab6b"/><rect x="893.78" y="498.00" width="21.5" height="56.50" fill="#e1ab6b"/><rect x="922.97" y="499.25" width="21.5" height="55.25" fill="#e1ab6b"/><rect x="952.16" y="500.50" width="21.5" height="54.00" fill="#e1ab6b"/><rect x="981.34" y="498.00" width="21.5" height="56.50" fill="#e1ab6b"/><rect x="1010.53" y="495.50" width="21.5" height="59.00" fill="#e1ab6b"/><rect x="1039.72" y="493.00" width="21.5" height="61.50" fill="#e1ab6b"/><rect x="1068.91" y="452.00" width="21.5" height="102.50" fill="#e1ab6b"/><rect x="1098.09" y="493.00" width="21.5" height="61.50" fill="#e1ab6b"/><rect x="1127.28" y="493.00" width="21.5" height="61.50" fill="#e1ab6b"/><rect x="1156.47" y="493.00" width="21.5" height="61.50" fill="#e1ab6b"/><rect x="1185.66" y="493.75" width="21.5" height="60.75" fill="#e1ab6b"/><rect x="1214.84" y="495.50" width="21.5" height="59.00" fill="#e1ab6b"/><rect x="1244.03" y="498.00" width="21.5" height="56.50" fill="#e1ab6b"/><rect x="1273.22" y="499.25" width="21.5" height="55.25" fill="#e1ab6b"/><rect x="1302.41" y="500.50" width="21.5" height="54.00" fill="#e1ab6b"/><rect x="1331.59" y="501.25" width="21.5" height="53.25" fill="#e1ab6b"/><rect x="1360.78" y="501.25" width="21.5" height="53.25" fill="#e1ab6b"/><rect x="1389.97" y="501.25" width="21.5" height="53.25" fill="#e1ab6b"/><rect x="1419.16" y="502.50" width="21.5" height="52.00" fill="#e1ab6b"/><rect x="1448.34" y="501.25" width="21.5" height="53.25" fill="#e1ab6b"/><rect x="1477.53" y="501.25" width="21.5" height="53.25" fill="#e1ab6b"/><rect x="1506.72" y="499.25" width="21.5" height="55.25" fill="#e1ab6b"/><rect x="1535.91" y="497.00" width="21.5" height="57.50" fill="#e1ab6b"/><path d="M860.75,555.1H1561.25" stroke="#dedede" stroke-width="1.2"/></svg>
<div class="a" style="left:813.5px;top:463.5px;width:40px;text-align:right;font-size:12.2px;color:#b0b0b0;letter-spacing:0px">30K</div>
<div class="a" style="left:813.5px;top:492px;width:40px;text-align:right;font-size:12.2px;color:#b0b0b0;letter-spacing:0px">20K</div>
<div class="a" style="left:813.5px;top:520.5px;width:40px;text-align:right;font-size:12.2px;color:#b0b0b0;letter-spacing:0px">10K</div>
<div class="a" style="left:813.5px;top:539px;width:40px;text-align:right;font-size:12.2px;color:#b0b0b0;letter-spacing:0px">0K</div>
<div class="a" style="left:860.3px;top:561.5px;width:30px;text-align:center;font-size:12.2px;color:#b0b0b0">0</div>
<div class="a" style="left:889.3px;top:561.5px;width:30px;text-align:center;font-size:12.2px;color:#b0b0b0">1</div>
<div class="a" style="left:918.2px;top:561.5px;width:30px;text-align:center;font-size:12.2px;color:#b0b0b0">2</div>
<div class="a" style="left:947.2px;top:561.5px;width:30px;text-align:center;font-size:12.2px;color:#b0b0b0">3</div>
<div class="a" style="left:976.1px;top:561.5px;width:30px;text-align:center;font-size:12.2px;color:#b0b0b0">4</div>
<div class="a" style="left:1005.0px;top:561.5px;width:30px;text-align:center;font-size:12.2px;color:#b0b0b0">5</div>
<div class="a" style="left:1034.0px;top:561.5px;width:30px;text-align:center;font-size:12.2px;color:#b0b0b0">6</div>
<div class="a" style="left:1062.9px;top:561.5px;width:30px;text-align:center;font-size:12.2px;color:#b0b0b0">7</div>
<div class="a" style="left:1091.8px;top:561.5px;width:30px;text-align:center;font-size:12.2px;color:#b0b0b0">8</div>
<div class="a" style="left:1120.8px;top:561.5px;width:30px;text-align:center;font-size:12.2px;color:#b0b0b0">9</div>
<div class="a" style="left:1149.7px;top:561.5px;width:30px;text-align:center;font-size:12.2px;color:#b0b0b0">10</div>
<div class="a" style="left:1178.7px;top:561.5px;width:30px;text-align:center;font-size:12.2px;color:#b0b0b0">11</div>
<div class="a" style="left:1207.6px;top:561.5px;width:30px;text-align:center;font-size:12.2px;color:#b0b0b0">12</div>
<div class="a" style="left:1236.5px;top:561.5px;width:30px;text-align:center;font-size:12.2px;color:#b0b0b0">13</div>
<div class="a" style="left:1265.5px;top:561.5px;width:30px;text-align:center;font-size:12.2px;color:#b0b0b0">14</div>
<div class="a" style="left:1294.4px;top:561.5px;width:30px;text-align:center;font-size:12.2px;color:#b0b0b0">15</div>
<div class="a" style="left:1323.3px;top:561.5px;width:30px;text-align:center;font-size:12.2px;color:#b0b0b0">16</div>
<div class="a" style="left:1352.3px;top:561.5px;width:30px;text-align:center;font-size:12.2px;color:#b0b0b0">17</div>
<div class="a" style="left:1381.2px;top:561.5px;width:30px;text-align:center;font-size:12.2px;color:#b0b0b0">18</div>
<div class="a" style="left:1410.2px;top:561.5px;width:30px;text-align:center;font-size:12.2px;color:#b0b0b0">19</div>
<div class="a" style="left:1439.1px;top:561.5px;width:30px;text-align:center;font-size:12.2px;color:#b0b0b0">20</div>
<div class="a" style="left:1468.0px;top:561.5px;width:30px;text-align:center;font-size:12.2px;color:#b0b0b0">21</div>
<div class="a" style="left:1497.0px;top:561.5px;width:30px;text-align:center;font-size:12.2px;color:#b0b0b0">22</div>
<div class="a" style="left:1525.9px;top:561.5px;width:30px;text-align:center;font-size:12.2px;color:#b0b0b0">23</div>
<div class="a" style="left:363px;top:640px;width:19px;height:322px;background:#f3f3f3;border-left:1px solid #ececec"></div>
<div class="a" style="left:364px;top:640px;width:18px;height:17.5px;background:#e0e0e0"></div>
<svg style="left:0;top:0" width="1600" height="988"><path d="M156.0,640V962" stroke="#f0f0f0" stroke-width="1"/><rect x="156.8" y="643.20" width="196.20" height="14" fill="#879fc4"/><rect x="156.8" y="663.30" width="141.80" height="14" fill="#879fc4"/><rect x="156.8" y="683.40" width="115.20" height="14" fill="#879fc4"/><rect x="156.8" y="703.50" width="112.20" height="14" fill="#879fc4"/><rect x="156.8" y="723.60" width="83.20" height="14" fill="#879fc4"/><rect x="156.8" y="743.70" width="67.60" height="14" fill="#879fc4"/><rect x="156.8" y="763.80" width="59.00" height="14" fill="#879fc4"/><rect x="156.8" y="783.90" width="57.40" height="14" fill="#879fc4"/><rect x="156.8" y="804.00" width="53.20" height="14" fill="#879fc4"/><rect x="156.8" y="824.10" width="52.50" height="14" fill="#879fc4"/><rect x="156.8" y="844.20" width="52.50" height="14" fill="#879fc4"/><rect x="156.8" y="864.30" width="47.70" height="14" fill="#879fc4"/><rect x="156.8" y="884.40" width="47.20" height="14" fill="#879fc4"/><rect x="156.8" y="904.50" width="47.20" height="14" fill="#879fc4"/><rect x="156.8" y="924.60" width="41.20" height="14" fill="#879fc4"/><rect x="156.8" y="944.70" width="41.20" height="14" fill="#879fc4"/></svg>
<div class="a" style="left:41.5px;top:643.0px;font-size:12.8px;color:#b4b4b4;letter-spacing:0px">tabforce1+sales</div>
<div class="a" style="left:41.5px;top:663.1px;font-size:12.8px;color:#b4b4b4;letter-spacing:0px">tabforce1+sales</div>
<div class="a" style="left:41.5px;top:683.2px;font-size:12.8px;color:#b4b4b4;letter-spacing:0px">tabforce1+sales</div>
<div class="a" style="left:41.5px;top:703.3px;font-size:12.8px;color:#b4b4b4;letter-spacing:0px">mfreeborn</div>
<div class="a" style="left:41.5px;top:723.4px;font-size:12.8px;color:#b4b4b4;letter-spacing:0px">tabforce1+sales</div>
<div class="a" style="left:41.5px;top:743.5px;font-size:12.8px;color:#b4b4b4;letter-spacing:0px">msm</div>
<div class="a" style="left:41.5px;top:763.6px;font-size:12.8px;color:#b4b4b4;letter-spacing:0px">gescallier</div>
<div class="a" style="left:41.5px;top:783.7px;font-size:12.8px;color:#b4b4b4;letter-spacing:0px">mlucas</div>
<div class="a" style="left:41.5px;top:803.8px;font-size:12.8px;color:#b4b4b4;letter-spacing:0px">tabforce1+sales</div>
<div class="a" style="left:41.5px;top:823.9px;font-size:12.8px;color:#b4b4b4;letter-spacing:0px">sbailey</div>
<div class="a" style="left:41.5px;top:844.0px;font-size:12.8px;color:#b4b4b4;letter-spacing:0px">ykomatsu</div>
<div class="a" style="left:41.5px;top:864.1px;font-size:12.8px;color:#b4b4b4;letter-spacing:0px">wburke</div>
<div class="a" style="left:41.5px;top:884.2px;font-size:12.8px;color:#b4b4b4;letter-spacing:0px">aabdullahi</div>
<div class="a" style="left:41.5px;top:904.3px;font-size:12.8px;color:#b4b4b4;letter-spacing:0px">eliza.baldini</div>
<div class="a" style="left:41.5px;top:924.4px;font-size:12.8px;color:#b4b4b4;letter-spacing:0px">pvillanueva</div>
<div class="a" style="left:41.5px;top:944.5px;font-size:12.8px;color:#b4b4b4;letter-spacing:0px">ryota.mori</div>
<div class="a" style="left:1157.5px;top:640px;width:19.5px;height:322px;background:#f3f3f3;border-left:1px solid #ececec"></div>
<div class="a" style="left:1158.5px;top:640px;width:18.5px;height:17.5px;background:#e0e0e0"></div>
<svg style="left:0;top:0" width="1600" height="988"><path d="M951.0,640V962" stroke="#f0f0f0" stroke-width="1"/><rect x="951.8" y="643.20" width="196.20" height="14" fill="#e1ab6b"/><rect x="951.8" y="663.30" width="127.70" height="14" fill="#e1ab6b"/><rect x="951.8" y="683.40" width="121.40" height="14" fill="#e1ab6b"/><rect x="951.8" y="703.50" width="69.40" height="14" fill="#e1ab6b"/><rect x="951.8" y="723.60" width="50.40" height="14" fill="#e1ab6b"/><rect x="951.8" y="743.70" width="39.30" height="14" fill="#e1ab6b"/><rect x="951.8" y="763.80" width="14.40" height="14" fill="#e1ab6b"/><rect x="951.8" y="783.90" width="10.00" height="14" fill="#e1ab6b"/><rect x="951.8" y="804.00" width="8.30" height="14" fill="#e1ab6b"/><rect x="951.8" y="824.10" width="8.30" height="14" fill="#e1ab6b"/><rect x="951.8" y="844.20" width="2.30" height="14" fill="#e1ab6b"/><rect x="951.8" y="864.30" width="2.30" height="14" fill="#e1ab6b"/><rect x="951.8" y="884.40" width="1.90" height="14" fill="#e1ab6b"/><rect x="951.8" y="904.50" width="0.80" height="14" fill="#e1ab6b"/><rect x="951.8" y="924.60" width="0.80" height="14" fill="#e1ab6b"/><rect x="951.8" y="944.70" width="0.80" height="14" fill="#e1ab6b"/></svg>
<div class="a" style="left:836.5px;top:643.0px;font-size:12.8px;color:#b4b4b4;letter-spacing:0px">dataylor</div>
<div class="a" style="left:836.5px;top:663.1px;font-size:12.8px;color:#b4b4b4;letter-spacing:0px">mmanzano</div>
<div class="a" style="left:836.5px;top:683.2px;font-size:12.8px;color:#b4b4b4;letter-spacing:0px">anesseth</div>
<div class="a" style="left:836.5px;top:703.3px;font-size:12.8px;color:#b4b4b4;letter-spacing:0px">pvillanueva</div>
<div class="a" style="left:836.5px;top:723.4px;font-size:12.8px;color:#b4b4b4;letter-spacing:0px">sishi</div>
<div class="a" style="left:836.5px;top:743.5px;font-size:12.8px;color:#b4b4b4;letter-spacing:0px">pferraiuoli</div>
<div class="a" style="left:836.5px;top:763.6px;font-size:12.8px;color:#b4b4b4;letter-spacing:0px">tessie.tran</div>
<div class="a" style="left:836.5px;top:783.7px;font-size:12.8px;color:#b4b4b4;letter-spacing:0px">anesseth</div>
<div class="a" style="left:836.5px;top:803.8px;font-size:12.8px;color:#b4b4b4;letter-spacing:0px">dstasin</div>
<div class="a" style="left:836.5px;top:823.9px;font-size:12.8px;color:#b4b4b4;letter-spacing:0px">trodgers</div>
<div class="a" style="left:836.5px;top:844.0px;font-size:12.8px;color:#b4b4b4;letter-spacing:0px">ryarbrough</div>
<div class="a" style="left:836.5px;top:864.1px;font-size:12.8px;color:#b4b4b4;letter-spacing:0px">sgeary</div>
<div class="a" style="left:836.5px;top:884.2px;font-size:12.8px;color:#b4b4b4;letter-spacing:0px">mfreeborn</div>
<div class="a" style="left:836.5px;top:904.3px;font-size:12.8px;color:#b4b4b4;letter-spacing:0px">jeaston</div>
<div class="a" style="left:836.5px;top:924.4px;font-size:12.8px;color:#b4b4b4;letter-spacing:0px">ykomatsu</div>
<div class="a" style="left:836.5px;top:944.5px;font-size:12.8px;color:#b4b4b4;letter-spacing:0px">ssmith</div>
<div class="a" style="left:1544.5px;top:640px;width:19.5px;height:322px;background:#f3f3f3;border-left:1px solid #ececec"></div>
<div class="a" style="left:1545.5px;top:640px;width:18.5px;height:17.5px;background:#e0e0e0"></div>
<svg style="left:0;top:0" width="1600" height="988"><path d="M1422.4,640V962" stroke="#f0f0f0" stroke-width="1"/><rect x="1423.2" y="643.20" width="116.10" height="14" fill="#e1ab6b"/><rect x="1423.2" y="663.30" width="83.80" height="14" fill="#e1ab6b"/><rect x="1423.2" y="683.40" width="51.60" height="14" fill="#e1ab6b"/><rect x="1423.2" y="703.50" width="42.40" height="14" fill="#e1ab6b"/><rect x="1423.2" y="723.60" width="39.30" height="14" fill="#e1ab6b"/><rect x="1423.2" y="743.70" width="29.40" height="14" fill="#e1ab6b"/><rect x="1423.2" y="763.80" width="22.50" height="14" fill="#e1ab6b"/><rect x="1423.2" y="783.90" width="9.30" height="14" fill="#e1ab6b"/><rect x="1423.2" y="804.00" width="8.60" height="14" fill="#e1ab6b"/><rect x="1423.2" y="824.10" width="6.50" height="14" fill="#e1ab6b"/><rect x="1423.2" y="844.20" width="6.50" height="14" fill="#e1ab6b"/><rect x="1423.2" y="864.30" width="5.40" height="14" fill="#e1ab6b"/><rect x="1423.2" y="884.40" width="1.70" height="14" fill="#e1ab6b"/><rect x="1423.2" y="904.50" width="1.70" height="14" fill="#e1ab6b"/><rect x="1423.2" y="924.60" width="0.80" height="14" fill="#e1ab6b"/><rect x="1423.2" y="944.70" width="0.80" height="14" fill="#e1ab6b"/></svg>
<div class="a" style="left:1117.5px;top:643.0px;width:300px;text-align:right;font-size:12.8px;color:#b4b4b4;letter-spacing:0px">COVID-19 Activity Extract</div>
<div class="a" style="left:1117.5px;top:663.1px;width:300px;text-align:right;font-size:12.8px;color:#b4b4b4;letter-spacing:0px">Clinical_Trial_Outcomes</div>
<div class="a" style="left:1117.5px;top:683.2px;width:300px;text-align:right;font-size:12.8px;color:#b4b4b4;letter-spacing:0px">DigitalMarketing Extract</div>
<div class="a" style="left:1117.5px;top:703.3px;width:300px;text-align:right;font-size:12.8px;color:#b4b4b4;letter-spacing:0px">TS Events</div>
<div class="a" style="left:1117.5px;top:723.4px;width:300px;text-align:right;font-size:12.8px;color:#b4b4b4;letter-spacing:0px">TS Users</div>
<div class="a" style="left:1117.5px;top:743.5px;width:300px;text-align:right;font-size:12.8px;color:#b4b4b4;letter-spacing:0px">Orders+Returns</div>
<div class="a" style="left:1117.5px;top:763.6px;width:300px;text-align:right;font-size:12.8px;color:#b4b4b4;letter-spacing:0px">OPM US Extract October 2020</div>
<div class="a" style="left:1117.5px;top:783.7px;width:300px;text-align:right;font-size:12.8px;color:#b4b4b4;letter-spacing:0px">Orders (superstore)</div>
<div class="a" style="left:1117.5px;top:803.8px;width:300px;text-align:right;font-size:12.8px;color:#b4b4b4;letter-spacing:0px">COVID-19 Activity</div>
<div class="a" style="left:1117.5px;top:823.9px;width:300px;text-align:right;font-size:12.8px;color:#b4b4b4;letter-spacing:0px">Groups</div>
<div class="a" style="left:1117.5px;top:844.0px;width:300px;text-align:right;font-size:12.8px;color:#b4b4b4;letter-spacing:0px">Site Content</div>
<div class="a" style="left:1117.5px;top:864.1px;width:300px;text-align:right;font-size:12.8px;color:#b4b4b4;letter-spacing:0px">Vendor Analytics</div>
<div class="a" style="left:1117.5px;top:884.2px;width:300px;text-align:right;font-size:12.8px;color:#b4b4b4;letter-spacing:0px">Foundational - New Business</div>
<div class="a" style="left:1117.5px;top:904.3px;width:300px;text-align:right;font-size:12.8px;color:#b4b4b4;letter-spacing:0px">Sample Superstore</div>
<div class="a" style="left:1117.5px;top:924.4px;width:300px;text-align:right;font-size:12.8px;color:#b4b4b4;letter-spacing:0px">Workday_Employees_w Remote</div>
<div class="a" style="left:1117.5px;top:944.5px;width:300px;text-align:right;font-size:12.8px;color:#b4b4b4;letter-spacing:0px">Sheet1 (CandidateTracker)</div>
<div class="a" style="left:750px;top:640px;width:18px;height:322px;background:#f3f3f3;border-left:1px solid #ececec"></div>
<div class="a" style="left:751px;top:640px;width:17px;height:17.5px;background:#e0e0e0"></div>
<svg style="left:0;top:0" width="1600" height="988"><path d="M627.4,640V962" stroke="#f0f0f0" stroke-width="1"/><rect x="628.2" y="646.25" width="115.20" height="33" fill="#879fc4"/><rect x="628.2" y="691.40" width="47.90" height="33" fill="#879fc4"/><rect x="628.2" y="736.55" width="38.90" height="33" fill="#879fc4"/><rect x="628.2" y="781.70" width="38.20" height="33" fill="#879fc4"/><rect x="628.2" y="826.85" width="35.80" height="33" fill="#879fc4"/><rect x="628.2" y="872.00" width="28.90" height="33" fill="#879fc4"/><rect x="628.2" y="917.15" width="28.90" height="33" fill="#879fc4"/><rect x="628.2" y="961.2" width="29" height="1.2" fill="#dfe5ef"/></svg>
<div class="a" style="left:322px;top:647.0px;width:300px;text-align:right;font-size:12.8px;color:#b4b4b4;letter-spacing:0px">Digital Marketing Campaign</div>
<div class="a" style="left:322px;top:665.0px;width:300px;text-align:right;font-size:12.8px;color:#b4b4b4;letter-spacing:0px">Performance Dashboard..</div>
<div class="a" style="left:322px;top:692.1px;width:300px;text-align:right;font-size:12.8px;color:#b4b4b4;letter-spacing:0px"><span style="color:#b4b4b4">Home_</span><span style="color:#575757;font-size:11.6px;letter-spacing:0px">営業担当者</span></div>
<div class="a" style="left:322px;top:710.1px;width:300px;text-align:right;font-size:12.8px;color:#b4b4b4;letter-spacing:0px">(SFDCembedded_tsq_trinity)</div>
<div class="a" style="left:322px;top:737.2px;width:300px;text-align:right;font-size:12.8px;color:#b4b4b4;letter-spacing:0px">Open Pipeline Dashboard</div>
<div class="a" style="left:322px;top:755.2px;width:300px;text-align:right;font-size:12.8px;color:#b4b4b4;letter-spacing:0px">(Open Pipeline Demo Live Connect)</div>
<div class="a" style="left:322px;top:782.4px;width:300px;text-align:right;font-size:12.8px;color:#b4b4b4;letter-spacing:0px"><span style="color:#575757;font-size:11.6px;letter-spacing:0px">商談画面</span></div>
<div class="a" style="left:322px;top:800.4px;width:300px;text-align:right;font-size:12.8px;color:#b4b4b4;letter-spacing:0px">(SFDCembedded_tsq_trinity)</div>
<div class="a" style="left:322px;top:827.6px;width:300px;text-align:right;font-size:12.8px;color:#b4b4b4;letter-spacing:0px">Executive Scorecard</div>
<div class="a" style="left:322px;top:845.6px;width:300px;text-align:right;font-size:12.8px;color:#b4b4b4;letter-spacing:0px">(Executive Scorecard)</div>
<div class="a" style="left:322px;top:872.7px;width:300px;text-align:right;font-size:12.8px;color:#b4b4b4;letter-spacing:0px"><span style="color:#575757;font-size:11.6px;letter-spacing:-2.1px">アカウント</span><span style="color:#b4b4b4">_</span><span style="color:#575757;font-size:11.6px;letter-spacing:-2.1px">昨年実績サマリ</span></div>
<div class="a" style="left:322px;top:890.7px;width:300px;text-align:right;font-size:12.8px;color:#b4b4b4;letter-spacing:0px">(SFDCembedded_tsq_trinity)</div>
<div class="a" style="left:322px;top:917.9px;width:300px;text-align:right;font-size:12.8px;color:#b4b4b4;letter-spacing:0px"><span style="color:#575757;font-size:11.6px;letter-spacing:-1.3px">アカウント</span><span style="color:#b4b4b4">_</span><span style="color:#575757;font-size:11.6px;letter-spacing:-1.3px">全社失注理由分析</span></div>
<div class="a" style="left:322px;top:935.9px;width:300px;text-align:right;font-size:12.8px;color:#b4b4b4;letter-spacing:0px">(SFDCembedded_tsq_trinity)</div>
<div class="a" style="left:0;top:971px;width:1600px;height:17px;background:linear-gradient(to bottom,rgba(0,0,0,0),rgba(0,0,0,0.045))"></div>
</body></html>
